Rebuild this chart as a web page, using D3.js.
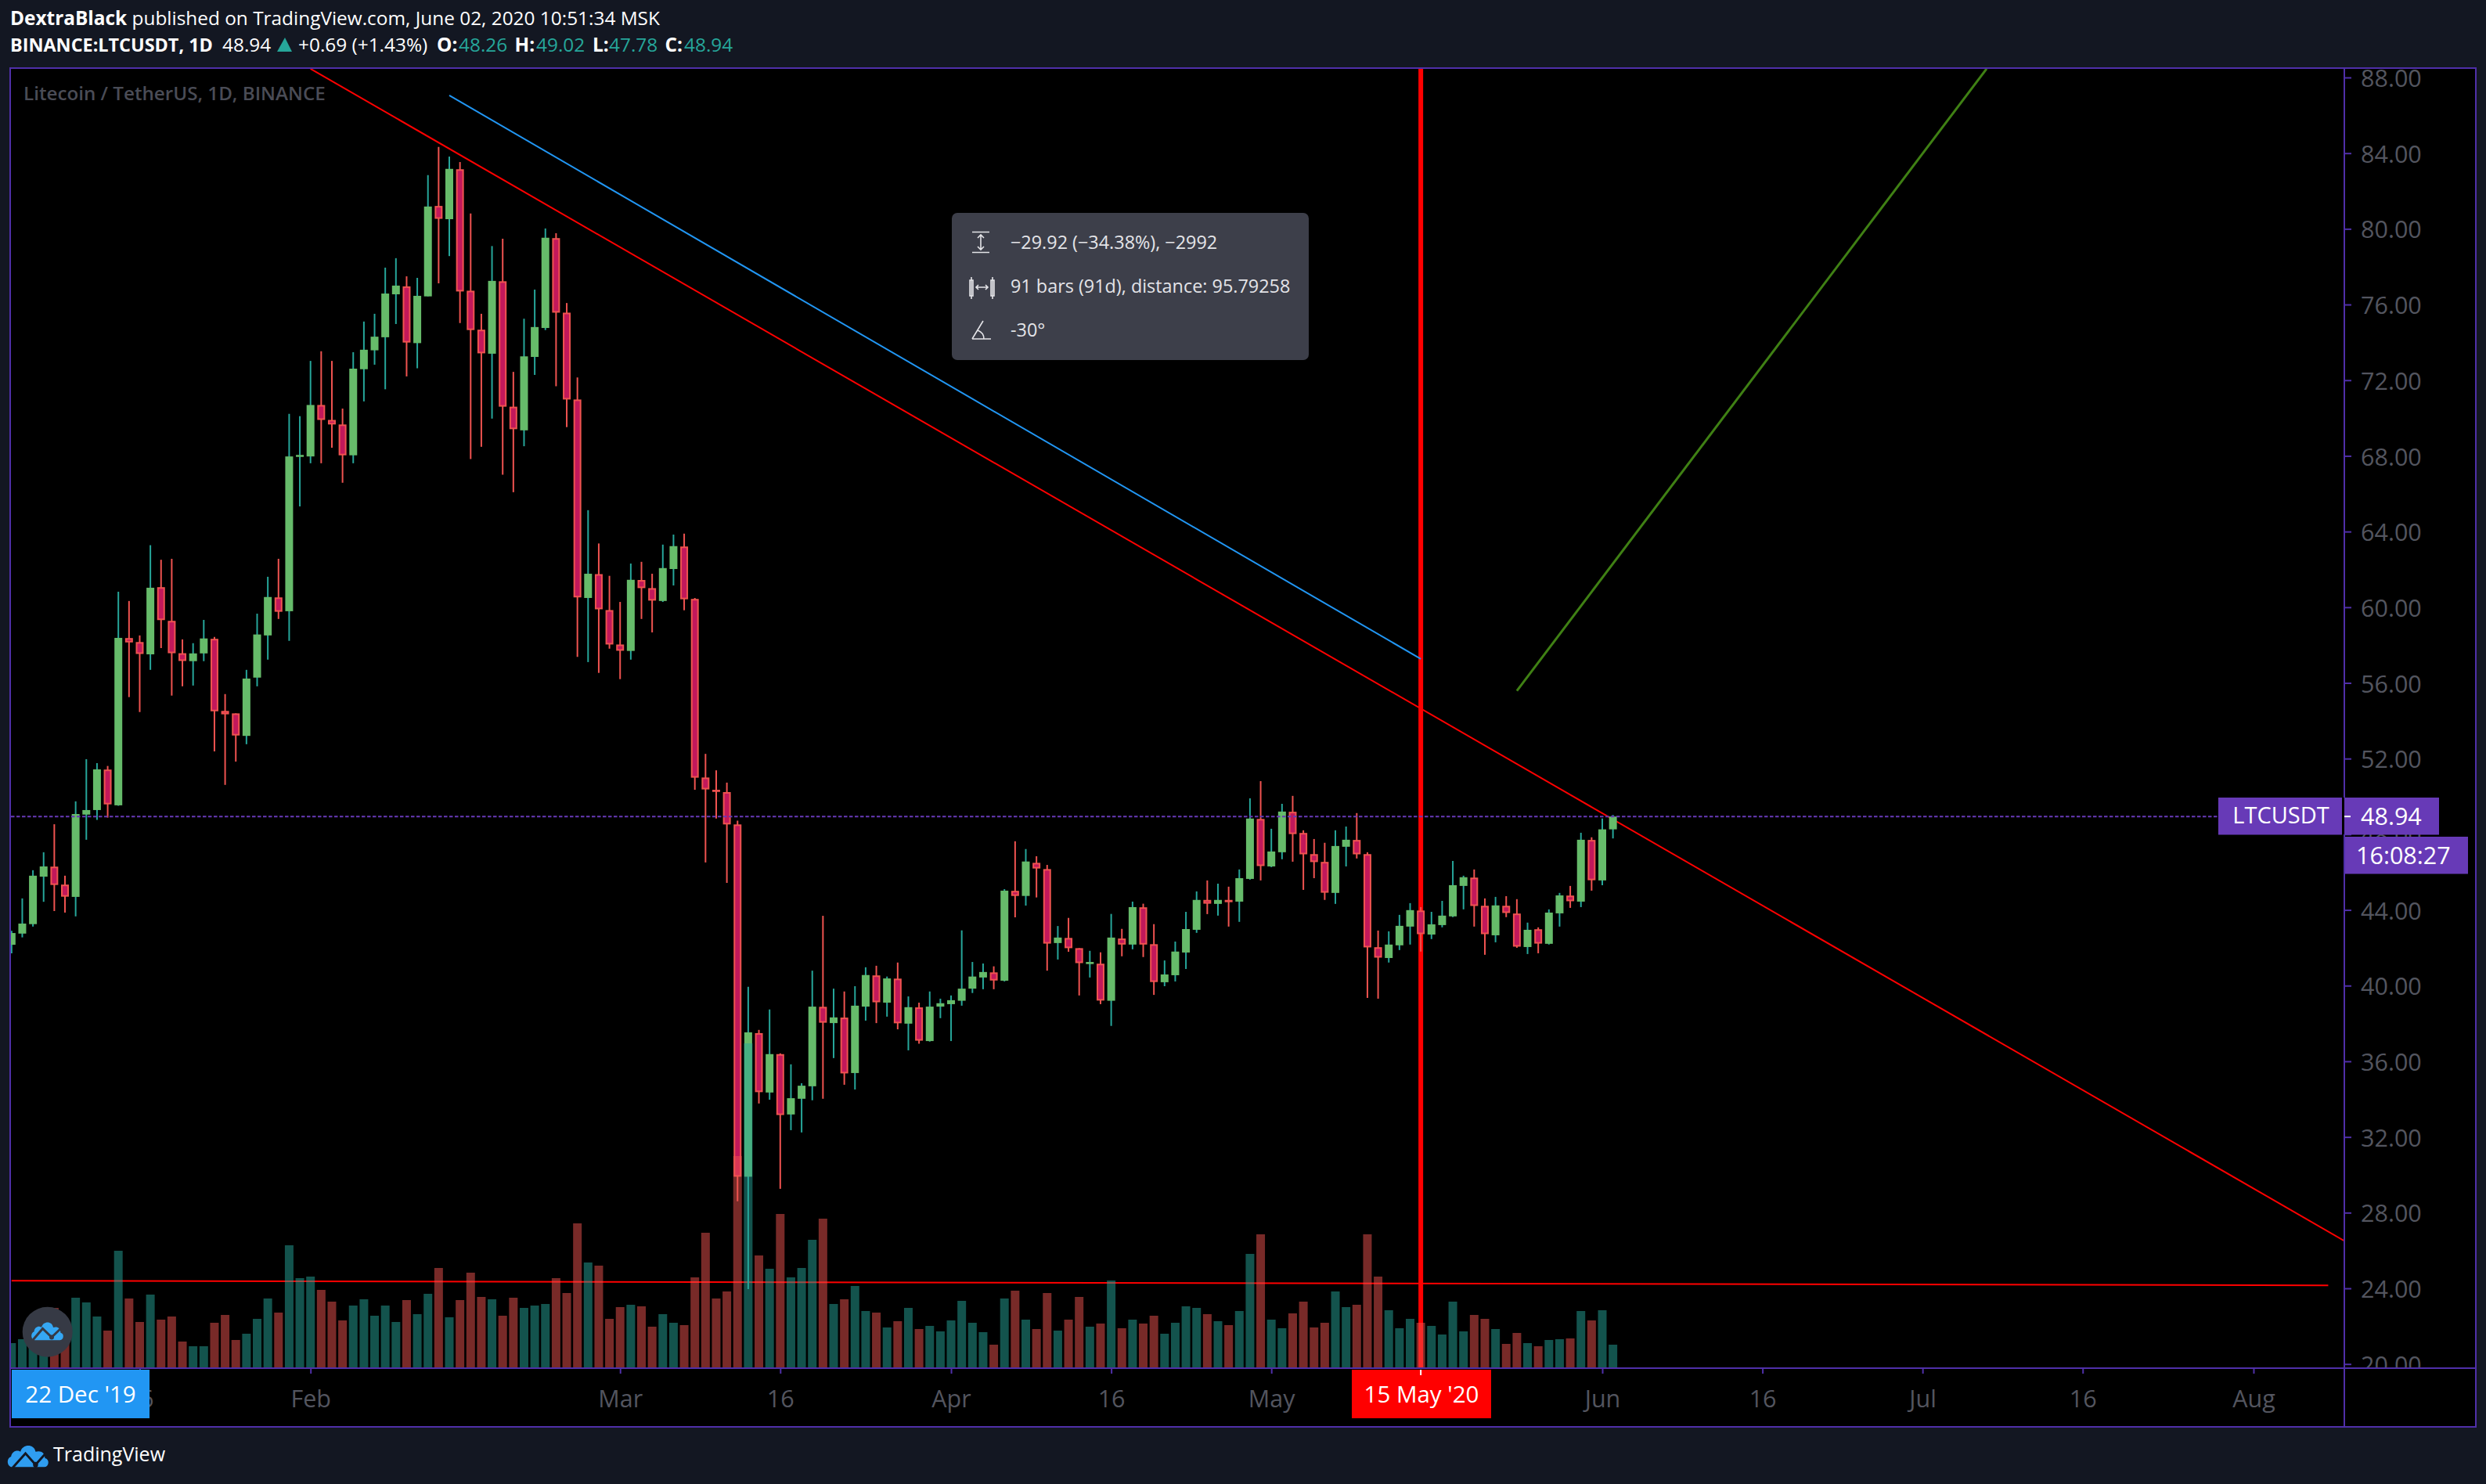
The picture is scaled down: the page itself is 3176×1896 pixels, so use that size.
<!DOCTYPE html>
<html><head><meta charset="utf-8">
<script src="https://cdn.jsdelivr.net/npm/d3@7"></script>
<style>
html,body{margin:0;padding:0;background:#131722;}
svg{display:block;}
text{font-family:"Open Sans","Noto Sans",sans-serif;}
</style></head><body>
<svg id="c" width="3176" height="1896"></svg>
<script>
// ---------- data ----------
const firstDate = "2020-01-04";
const opens = [42.16,42.75,43.25,45.76,46.29,45.34,44.69,49.04,49.28,51.42,49.53,58.37,58.16,57.51,61.06,59.28,57.57,57.15,57.56,58.33,54.52,54.39,53.20,56.28,58.51,60.52,59.79,68.00,
67.97,70.69,69.90,69.66,68.03,72.58,73.58,74.27,76.54,76.96,73.96,76.43,81.21,80.51,83.15,76.73,74.67,73.40,77.23,70.60,69.35,73.23,74.76,79.51,75.57,70.98,60.49,61.75,59.85,58.03,57.69,61.44,61.01,60.33,62.02,63.21,60.44,51.00,50.35,50.23,48.52,29.90,37.49,34.35,36.38,33.19,34.02,34.68,38.88,38.02,38.31,35.38,38.89,40.54,39.10,40.37,37.99,38.85,37.07,38.89,39.02,39.20,39.84,40.43,40.70,40.26,45.01,44.74,46.49,46.16,42.25,42.52,41.98,41.14,41.16,39.20,42.49,42.17,44.14,42.19,40.18,40.55,41.75,42.95,44.53,44.32,44.53,44.44,45.64,48.81,46.30,47.05,49.19,48.07,46.95,46.54,44.90,47.34,47.70,46.95,42.03,41.46,42.13,43.12,43.97,42.70,43.20,43.66,45.27,45.71,44.22,42.66,44.22,43.81,42.04,42.98,42.21,43.82,44.76,44.44,47.70,45.56,48.26];
const highs = [42.90,44.61,46.10,47.05,48.53,45.81,49.74,51.97,51.76,51.61,60.82,60.33,58.51,63.28,62.51,62.56,58.30,58.10,59.33,58.43,55.41,54.39,56.69,59.66,61.61,62.56,70.22,70.10,
73.02,73.53,73.02,70.50,73.48,75.10,75.51,77.95,78.45,77.49,77.41,82.84,84.33,83.82,83.53,80.81,75.51,79.09,79.48,72.44,75.25,76.79,80.02,79.77,76.08,72.15,65.13,63.37,61.66,60.28,62.31,62.40,61.77,63.31,63.84,63.89,60.49,52.25,51.38,50.73,48.72,39.94,37.66,38.74,36.42,35.84,34.84,40.79,43.69,39.84,39.69,39.97,40.97,41.05,40.48,41.22,39.43,39.10,39.69,39.31,39.48,42.92,41.25,41.17,41.02,45.10,47.63,47.22,46.84,46.38,43.15,43.58,41.98,41.84,41.76,43.79,43.00,44.44,44.33,43.25,41.33,42.33,43.90,44.98,45.56,45.39,45.23,46.14,49.90,50.81,48.29,49.61,50.03,48.21,47.75,47.55,48.21,48.41,49.12,47.05,42.91,42.87,43.74,44.36,44.15,43.90,44.48,46.59,45.81,46.14,44.61,44.69,44.73,44.57,43.33,43.08,44.03,44.90,45.27,48.08,47.84,48.83,49.02];
const lows = [41.71,42.55,43.12,44.43,43.94,43.86,43.66,47.71,48.76,48.88,49.50,55.25,54.46,56.69,57.84,55.33,55.82,55.86,57.15,52.38,50.61,51.84,52.76,55.82,57.23,59.38,58.22,65.33,
67.61,67.61,68.43,66.58,67.61,70.88,72.82,71.52,74.97,72.20,72.63,76.43,77.12,78.56,75.02,67.83,68.48,69.97,67.00,66.08,68.51,72.28,74.65,71.68,69.52,57.38,57.10,56.53,57.81,56.20,57.23,59.38,58.67,60.28,61.15,59.84,50.35,46.51,48.83,45.43,28.60,23.96,33.77,33.97,29.26,32.36,32.24,33.94,34.02,36.17,34.76,34.51,38.15,38.02,38.36,37.69,36.58,36.93,37.04,38.28,37.07,38.94,39.61,39.81,39.81,40.22,43.61,44.23,44.66,40.79,41.38,41.79,39.48,40.43,39.02,37.87,41.55,41.92,41.51,39.51,39.97,40.22,40.88,42.79,43.78,43.70,43.12,43.37,45.60,45.56,46.26,46.68,46.55,45.06,45.68,44.53,44.32,46.30,46.72,39.35,39.31,41.22,41.88,42.17,41.80,42.46,43.08,43.62,44.03,43.12,41.63,42.29,43.62,42.00,41.67,41.71,42.17,43.12,44.11,44.15,45.02,45.31,47.78];
const closes = [42.78,43.28,45.81,46.30,45.32,44.70,49.07,49.28,51.43,49.58,58.38,58.14,57.53,61.03,59.32,57.57,57.16,57.56,58.35,54.50,54.34,53.22,56.23,58.56,60.54,59.76,67.97,68.05,
70.69,69.90,69.66,68.03,72.61,73.61,74.30,76.58,77.00,73.99,76.46,81.18,80.53,83.17,76.69,74.65,73.42,77.25,70.60,69.41,73.26,74.81,79.53,75.57,70.98,60.52,61.77,59.89,58.03,57.70,61.45,61.01,60.35,62.07,63.23,60.42,50.99,50.37,50.24,48.52,29.90,37.53,34.37,36.38,33.16,34.05,34.71,38.89,38.04,38.32,35.36,38.94,40.56,39.12,40.38,38.01,38.86,37.09,38.89,39.07,39.23,39.84,40.48,40.72,40.27,45.02,44.74,46.56,46.19,42.22,42.54,41.98,41.19,41.25,39.21,42.54,42.17,44.15,42.17,40.19,40.59,41.80,42.99,44.53,44.33,44.53,44.41,45.68,48.83,46.32,47.09,49.20,48.01,46.94,46.53,44.91,47.38,47.71,46.94,42.02,41.48,42.17,43.16,43.99,42.72,43.24,43.70,45.31,45.73,44.21,42.72,44.24,43.84,42.06,42.95,42.22,43.86,44.77,44.46,47.71,45.57,48.26,48.94];
const volumes = [93,108,135,120,228,120,267,249,195,141,447,264,174,279,183,195,99,81,81,171,201,105,129,186,264,210,468,342,
348,297,252,180,237,261,198,237,174,258,204,282,381,192,258,363,270,261,198,267,228,237,243,342,285,552,402,390,186,231,240,234,156,204,171,162,345,516,264,291,810,1242,429,378,588,345,381,489,570,243,261,312,216,210,153,177,228,147,159,138,180,255,171,135,87,264,294,183,147,285,141,183,270,156,168,333,150,183,168,198,129,171,234,228,204,177,162,216,435,510,183,150,207,252,153,171,291,231,240,510,348,219,150,186,171,159,126,252,138,201,186,147,90,132,93,81,105,108,111,216,180,219,87];
const priceTicks = d3.range(20, 89, 4);
const timeTicks = ["2020-01-16","2020-02-01","2020-03-01","2020-03-16","2020-04-01","2020-04-16","2020-05-01","2020-06-01","2020-06-16","2020-07-01","2020-07-16","2020-08-01"];
const timeTickLabels = ["16","Feb","Mar","16","Apr","16","May","Jun","16","Jul","16","Aug"];
const lastPrice = 48.94;
const lastName = "LTCUSDT";
const countdown = "16:08:27";
const dateLabelStart = "22 Dec '19";
const dateLabelMark = "15 May '20";
const markDate = "2020-05-15";
// drawings: [date, price] pairs
const redTrend = [["2020-02-01",88.46],["2020-08-10",26.35]];
const blueTrend = [["2020-02-14",87.05],["2020-05-15",57.27]];
const greenTrend = [["2020-05-24",55.58],["2020-07-07",88.46]];
const flatLine = [["2020-01-04",24.40],["2020-08-08",24.16]];
const measureLines = ["\u221229.92 (\u221234.38%), \u22122992","91 bars (91d), distance: 95.79258","-30\u00b0"];

// ---------- layout ----------
const paneL=14, paneT=88, paneR=2995, paneB=1748, outerR=3163, outerB=1823;
const svg=d3.select("#c");
const parse=d3.utcParse("%Y-%m-%d");
const x=d3.scaleUtc().domain([parse("2020-02-01"),parse("2020-06-01")]).range([396.7,2047]);
const y=d3.scaleLinear().domain([20,88]).range([1742.7,99]);
const vy=d3.scaleLinear().domain([0,1242]).range([1747,1333]);
const day0=parse(firstDate);
const dayAt=i=>d3.utcDay.offset(day0,i);
const candles=opens.map((o,i)=>({d:dayAt(i),o,h:highs[i],l:lows[i],c:closes[i],v:volumes[i],up:closes[i]>=o}));
const PURPLE="#4f2fa8", TXT="#53555f", RED="#ef5350", TEAL="#26a69a", GRN="#66bb6a", CRIM="#c2185b", VIO="#673ab7";
const AXF=30.5;

svg.append("rect").attr("width",3176).attr("height",1896).attr("fill","#131722");
svg.append("rect").attr("x",13).attr("y",87).attr("width",outerR-13).attr("height",outerB-87).attr("fill","#000");
const defs=svg.append("defs");
defs.append("clipPath").attr("id","pane").append("rect").attr("x",paneL).attr("y",paneT).attr("width",paneR-paneL).attr("height",paneB-paneT);
defs.append("clipPath").attr("id","yax").append("rect").attr("x",paneR).attr("y",paneT).attr("width",outerR-paneR).attr("height",paneB-paneT);

// y axis
const yAxis=d3.axisRight(y).tickValues(priceTicks).tickFormat(d3.format(".2f")).tickSize(9).tickPadding(12);
const ga=svg.append("g").attr("clip-path","url(#yax)").append("g").attr("transform",`translate(${paneR},0)`).call(yAxis);
ga.select(".domain").remove();
ga.selectAll("line").attr("stroke",PURPLE).attr("stroke-width",2);
ga.selectAll("text").attr("fill",TXT).attr("font-size",AXF).attr("dy","0.38em").attr("font-family",'"Open Sans"');

// x axis
const xAxis=d3.axisBottom(x).tickValues(timeTicks.map(parse)).tickFormat((d,i)=>timeTickLabels[i]).tickSize(7).tickPadding(21);
const gx=svg.append("g").attr("transform",`translate(0,${paneB})`).call(xAxis);
gx.select(".domain").remove();
gx.selectAll("line").attr("stroke",PURPLE).attr("stroke-width",2);
gx.selectAll("text").attr("fill",TXT).attr("font-size",AXF).attr("font-family",'"Open Sans"');

// pane
const pane=svg.append("g").attr("clip-path","url(#pane)");
const lineGen=d3.line().x(p=>x(parse(p[0]))).y(p=>y(p[1]));
const trend=(pts,color,w)=>pane.append("path").attr("d",lineGen(pts)).attr("fill","none").attr("stroke",color).attr("stroke-width",w);
trend(flatLine,"#ff0000",2);
pane.append("line").attr("x1",x(parse(markDate))).attr("x2",x(parse(markDate))).attr("y1",paneT).attr("y2",paneB).attr("stroke","#ff0000").attr("stroke-width",6);
trend(redTrend,"#ff0000",2);
trend(blueTrend,"#2196f3",2);
trend(greenTrend,"#3f8014",3);

// watermark
svg.append("text").attr("x",30).attr("y",128).attr("fill","#4a4c56").attr("font-size",24.2).attr("font-weight",600).text("Litecoin / TetherUS, 1D, BINANCE");

// wicks, bodies
pane.append("g").selectAll("line").data(candles).join("line")
  .attr("x1",d=>x(d.d)).attr("x2",d=>x(d.d)).attr("y1",d=>y(d.h)).attr("y2",d=>y(d.l))
  .attr("stroke",d=>d.up?TEAL:RED).attr("stroke-width",2);
pane.append("g").selectAll("rect").data(candles).join("rect")
  .attr("x",d=>x(d.d)-4).attr("width",8)
  .attr("y",d=>y(Math.max(d.o,d.c))+1)
  .attr("height",d=>Math.max(0.5,y(Math.min(d.o,d.c))-y(Math.max(d.o,d.c))-2))
  .attr("fill",d=>d.up?GRN:CRIM).attr("stroke",d=>d.up?GRN:RED).attr("stroke-width",2);

// volume
pane.append("g").selectAll("rect").data(candles).join("rect")
  .attr("x",d=>x(d.d)-5.5).attr("width",11)
  .attr("y",d=>vy(d.v)).attr("height",d=>vy(0)-vy(d.v))
  .attr("fill",d=>d.up?TEAL:RED).attr("fill-opacity",0.5);

// last price line
pane.append("line").attr("x1",paneL).attr("x2",2834).attr("y1",y(lastPrice)).attr("y2",y(lastPrice))
  .attr("stroke",VIO).attr("stroke-width",2).attr("stroke-dasharray","4.5 2.5");

// measure tooltip
const tip=svg.append("g");
tip.append("rect").attr("x",1216).attr("y",272).attr("width",456).attr("height",188).attr("rx",7).attr("fill","#3d3f4a");
const rows=[318,374,430];
measureLines.forEach((t,i)=>tip.append("text").attr("x",1291).attr("y",rows[i]).attr("fill","#e4e4e8").attr("font-size",23.4).attr("font-family",'"DejaVu Sans"').text(t));
const ic=tip.append("path").attr("fill","none").attr("stroke","#e4e4e8").attr("stroke-width",1.6);
ic.attr("d",[
 "M1242 296.5H1264M1242 322.5H1264M1253 300V319M1249 304L1253 300L1257 304M1249 315L1253 319L1257 315",
 "M1241 354V382M1268 354V382M1239 358h4v20h-4zM1266 358h4v20h-4zM1247 367H1262M1250 364L1247 367L1250 370M1259 364L1262 367L1259 370",
 "M1242 433H1266M1242 433L1256 410M1249 422Q1257 425 1257 433"].join(""));

// price labels
const lab=(x0,y0,w,h,fill)=>svg.append("rect").attr("x",x0).attr("y",y0).attr("width",w).attr("height",h).attr("fill",fill);
lab(2834,1019,158,47.5,VIO);
lab(2995,1019,121,47.5,VIO);
lab(2996,1069,157,47.5,VIO);
svg.append("line").attr("x1",2995).attr("x2",3003).attr("y1",y(lastPrice)).attr("y2",y(lastPrice)).attr("stroke","#fff").attr("stroke-width",2);
const t30=(tx,ty,s,anchor="start",fs=AXF)=>svg.append("text").attr("x",tx).attr("y",ty).attr("fill","#fff").attr("font-size",fs).attr("text-anchor",anchor).text(s);
t30(2914,1052,lastName,"middle",29);
t30(3016,1054,d3.format(".2f")(lastPrice));
t30(3010,1104,countdown);

// date labels
lab(15,1750,176,62,"#2196f3");
t30(103,1792,dateLabelStart,"middle",29.5);
lab(1727,1750,178,62,"#ff0000");
t30(1816,1792,dateLabelMark,"middle",29.5);
svg.append("line").attr("x1",x(parse(markDate))).attr("x2",x(parse(markDate))).attr("y1",1750).attr("y2",1757).attr("stroke","#fff").attr("stroke-width",2);

// frame
const frame=svg.append("g").attr("stroke",PURPLE).attr("stroke-width",2).attr("fill","none");
frame.append("rect").attr("x",13).attr("y",87).attr("width",outerR-13).attr("height",outerB-87);
frame.append("line").attr("x1",13).attr("x2",outerR).attr("y1",paneB).attr("y2",paneB);
frame.append("line").attr("x1",paneR).attr("x2",paneR).attr("y1",87).attr("y2",1019);
frame.append("line").attr("x1",paneR).attr("x2",paneR).attr("y1",1066).attr("y2",outerB);

// logos
const cloud="M-25 12 C-33 12 -34 1 -27 -1 C-26 -8 -18 -10 -14 -7 C-11 -17 5 -17 7 -7 C14 -9 20 -6 20 1 C27 2 26 12 19 12 Z";
svg.append("circle").attr("cx",60.7).attr("cy",1701.7).attr("r",32).attr("fill","#363a45");
const lg=svg.append("g").attr("transform","translate(61,1701)");
lg.append("path").attr("d",cloud).attr("transform","translate(2,1) scale(.72,.86)").attr("fill","#35a7f3");
lg.append("path").attr("d","M-19 11 L-6.5 -3.5 L5 7.5 L17 -4").attr("fill","none").attr("stroke","#363a45").attr("stroke-width",3);
lg.append("circle").attr("cx",5).attr("cy",7.5).attr("r",3).attr("fill","#363a45");
const lb=svg.append("g").attr("transform","translate(39,1862) scale(.92,1.03)");
lb.append("path").attr("d",cloud).attr("fill","#2f9df0");
lb.append("path").attr("d","M-25 13 L-7 -5 L7 9 L22 -6").attr("fill","none").attr("stroke","#131722").attr("stroke-width",3);
lb.append("circle").attr("cx",7).attr("cy",9).attr("r",3.5).attr("fill","#131722");
svg.append("text").attr("x",68).attr("y",1867).attr("fill","#fff").attr("font-size",25).text("TradingView");

// header
const HF=24.4;
const h1=svg.append("text").attr("x",13).attr("y",32).attr("fill","#fff").attr("font-size",HF);
h1.append("tspan").attr("font-weight",700).text("DextraBlack");
h1.append("tspan").text(" published on TradingView.com, June 02, 2020 10:51:34 MSK");
const hd=(px,s,bold,col)=>svg.append("text").attr("x",px).attr("y",66).attr("fill",col||"#fff").attr("font-size",HF).attr("font-weight",bold?700:400).text(s);
hd(13,"BINANCE:LTCUSDT, 1D",true).attr("font-size",23.4);
hd(284,"48.94");
svg.append("path").attr("d","M354 66L364 48L373 66Z").attr("fill",TEAL);
hd(381,"+0.69 (+1.43%)");
hd(558,"O:",true); hd(586,"48.26",false,TEAL);
hd(657.5,"H:",true); hd(685,"49.02",false,TEAL);
hd(757,"L:",true); hd(778,"47.78",false,TEAL);
hd(849.5,"C:",true); hd(874,"48.94",false,TEAL);
</script>
</body></html>
